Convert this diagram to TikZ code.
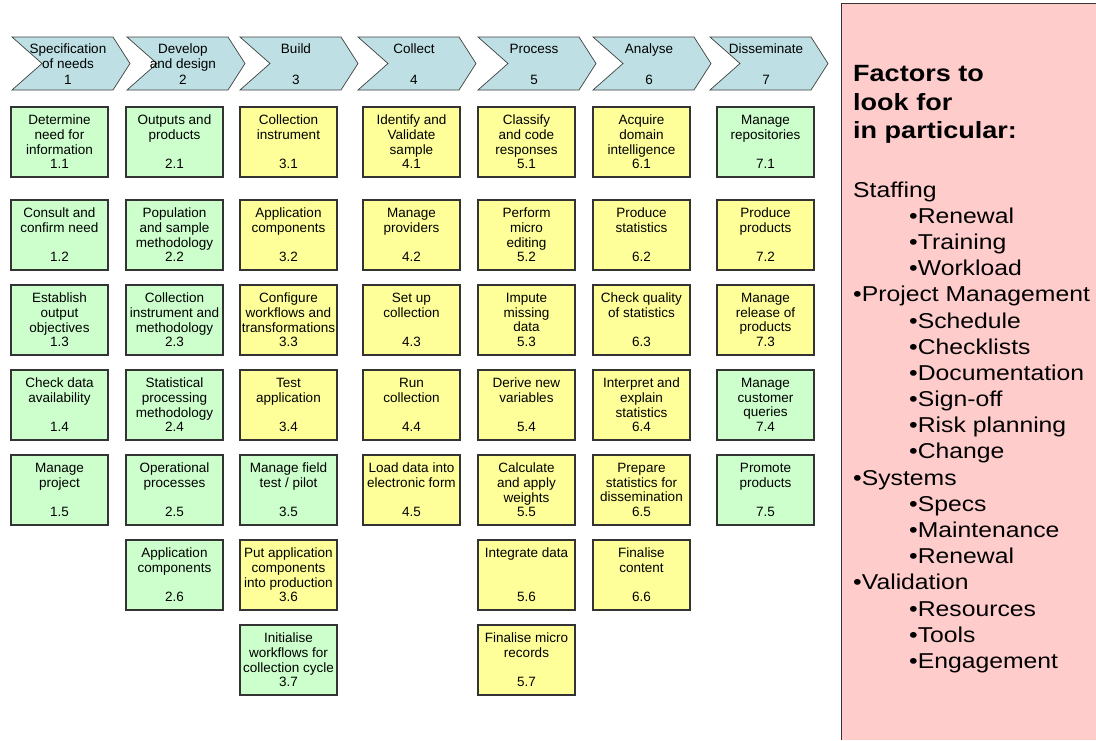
\documentclass[tikz,border=0pt]{standalone}
\usepackage{fontspec}
\setmainfont{Liberation Sans}
\newfontfamily\panelfont[FakeStretch=1.15]{Liberation Sans}

\definecolor{phaseblue}{RGB}{190,224,228}
\definecolor{taskgreen}{RGB}{204,255,204}
\definecolor{taskyellow}{RGB}{255,255,153}
\definecolor{panelpink}{RGB}{255,204,204}

\tikzset{
    task/.style={draw=black!80, line width=1.1pt, minimum width=97pt, minimum height=70pt,
        inner sep=0pt, align=center, font=\fontsize{13.5}{14.6}\selectfont},
    green task/.style={task, fill=taskgreen},
    yellow task/.style={task, fill=taskyellow},
    phase shape/.style={draw=black!75, line width=0.7pt, fill=phaseblue, line join=miter},
    phase/.style={align=center, inner sep=0pt, font=\fontsize{13.5}{15.5}\selectfont}
}

\begin{document}
\begin{tikzpicture}[x=1pt, y=-1pt]
    % 1. Khung hình
    \useasboundingbox (0,0) rectangle (1096,740);

    % 2. Các giai đoạn (mũi tên chevron)
    \foreach \x/\lbl [count=\i] in {12/Specification\\of needs\\1, 127/Develop\\and design\\2,
        240/Build\\[15.5pt]3, 358/Collect\\[15.5pt]4, 478/Process\\[15.5pt]5,
        593/Analyse\\[15.5pt]6, 710/Disseminate\\[15.5pt]7} {
        \draw[phase shape] (\x,37) -- ++(101,0) -- ++(17,26.5) -- ++(-17,26.5)
            -- ++(-101,0) -- ++(30,-26.5) -- cycle;
        \node[phase] (p\i) at (\x+56,64) {\lbl};
    }

    % 3. Cột 1
    \node[green task] (t1-1) at (59.5,142) {Determine\\need for\\information\\1.1};
    \node[green task] (t1-2) at (59.5,235) {Consult and\\confirm need\\[14.6pt]1.2};
    \node[green task] (t1-3) at (59.5,320) {Establish\\output\\objectives\\1.3};
    \node[green task] (t1-4) at (59.5,405) {Check data\\availability\\[14.6pt]1.4};
    \node[green task] (t1-5) at (59.5,490) {Manage\\project\\[14.6pt]1.5};

    % 4. Cột 2
    \node[green task] (t2-1) at (174.5,142) {Outputs and\\products\\[14.6pt]2.1};
    \node[green task] (t2-2) at (174.5,235) {Population\\and sample\\methodology\\2.2};
    \node[green task] (t2-3) at (174.5,320) {Collection\\instrument and\\methodology\\2.3};
    \node[green task] (t2-4) at (174.5,405) {Statistical\\processing\\methodology\\2.4};
    \node[green task] (t2-5) at (174.5,490) {Operational\\processes\\[14.6pt]2.5};
    \node[green task] (t2-6) at (174.5,575) {Application\\components\\[14.6pt]2.6};

    % 5. Cột 3
    \node[yellow task] (t3-1) at (288.5,142) {Collection\\instrument\\[14.6pt]3.1};
    \node[yellow task] (t3-2) at (288.5,235) {Application\\components\\[14.6pt]3.2};
    \node[yellow task] (t3-3) at (288.5,320) {Configure\\workflows and\\transformations\\3.3};
    \node[yellow task] (t3-4) at (288.5,405) {Test\\application\\[14.6pt]3.4};
    \node[green task] (t3-5) at (288.5,490) {Manage field\\test / pilot\\[14.6pt]3.5};
    \node[yellow task] (t3-6) at (288.5,575) {Put application\\components\\into production\\3.6};
    \node[green task] (t3-7) at (288.5,660) {Initialise\\workflows for\\collection cycle\\3.7};

    % 6. Cột 4
    \node[yellow task] (t4-1) at (411.5,142) {Identify and\\Validate\\sample\\4.1};
    \node[yellow task] (t4-2) at (411.5,235) {Manage\\providers\\[14.6pt]4.2};
    \node[yellow task] (t4-3) at (411.5,320) {Set up\\collection\\[14.6pt]4.3};
    \node[yellow task] (t4-4) at (411.5,405) {Run\\collection\\[14.6pt]4.4};
    \node[yellow task] (t4-5) at (411.5,490) {Load data into\\electronic form\\[14.6pt]4.5};

    % 7. Cột 5
    \node[yellow task] (t5-1) at (526.5,142) {Classify\\and code\\responses\\5.1};
    \node[yellow task] (t5-2) at (526.5,235) {Perform\\micro\\editing\\5.2};
    \node[yellow task] (t5-3) at (526.5,320) {Impute\\missing\\data\\5.3};
    \node[yellow task] (t5-4) at (526.5,405) {Derive new\\variables\\[14.6pt]5.4};
    \node[yellow task] (t5-5) at (526.5,490) {Calculate\\and apply\\weights\\5.5};
    \node[yellow task] (t5-6) at (526.5,575) {Integrate data\\[29.2pt]5.6};
    \node[yellow task] (t5-7) at (526.5,660) {Finalise micro\\records\\[14.6pt]5.7};

    % 8. Cột 6
    \node[yellow task] (t6-1) at (641.5,142) {Acquire\\domain\\intelligence\\6.1};
    \node[yellow task] (t6-2) at (641.5,235) {Produce\\statistics\\[14.6pt]6.2};
    \node[yellow task] (t6-3) at (641.5,320) {Check quality\\of statistics\\[14.6pt]6.3};
    \node[yellow task] (t6-4) at (641.5,405) {Interpret and\\explain\\statistics\\6.4};
    \node[yellow task] (t6-5) at (641.5,490) {Prepare\\statistics for\\dissemination\\6.5};
    \node[yellow task] (t6-6) at (641.5,575) {Finalise\\content\\[14.6pt]6.6};

    % 9. Cột 7
    \node[green task] (t7-1) at (765.5,142) {Manage\\repositories\\[14.6pt]7.1};
    \node[yellow task] (t7-2) at (765.5,235) {Produce\\products\\[14.6pt]7.2};
    \node[yellow task] (t7-3) at (765.5,320) {Manage\\release of\\products\\7.3};
    \node[green task] (t7-4) at (765.5,405) {Manage\\customer\\queries\\7.4};
    \node[green task] (t7-5) at (765.5,490) {Promote\\products\\[14.6pt]7.5};

    % 10. Khung bên phải (nền hồng)
    \fill[panelpink] (841,3) rectangle (1096,740);
    \draw[black!80, line width=1pt] (841,740) -- (841,3) -- (1096,3);
    \node[anchor=north west, align=left, inner sep=0pt,
        font=\panelfont\bfseries\fontsize{23.5}{28.5}\selectfont]
        (title) at (853,65.5) {Factors to\\look for\\in particular:};
    \node[anchor=north west, align=left, inner sep=0pt,
        font=\panelfont\fontsize{21.5}{26.17}\selectfont]
        (factors) at (853,181.5) {Staffing\\
        \hspace*{56pt}•Renewal\\
        \hspace*{56pt}•Training\\
        \hspace*{56pt}•Workload\\
        •Project Management\\
        \hspace*{56pt}•Schedule\\
        \hspace*{56pt}•Checklists\\
        \hspace*{56pt}•Documentation\\
        \hspace*{56pt}•Sign-off\\
        \hspace*{56pt}•Risk planning\\
        \hspace*{56pt}•Change\\
        •Systems\\
        \hspace*{56pt}•Specs\\
        \hspace*{56pt}•Maintenance\\
        \hspace*{56pt}•Renewal\\
        •Validation\\
        \hspace*{56pt}•Resources\\
        \hspace*{56pt}•Tools\\
        \hspace*{56pt}•Engagement};
\end{tikzpicture}
\end{document}
